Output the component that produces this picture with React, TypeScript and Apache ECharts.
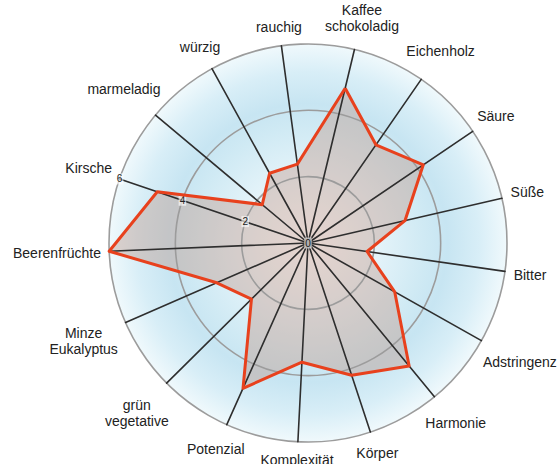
import React, { useEffect, useRef } from 'react';
import * as echarts from 'echarts';

// Indicators, listed counter-clockwise starting with "Kaffee schokoladig"
const indicatorNames: string[] = [
  'Kaffee\nschokoladig',
  'rauchig',
  'würzig',
  'marmeladig',
  'Kirsche',
  'Beerenfrüchte',
  'Minze\nEukalyptus',
  'grün\nvegetative',
  'Potenzial',
  'Komplexität',
  'Körper',
  'Harmonie',
  'Adstringenz',
  'Bitter',
  'Süße',
  'Säure',
  'Eichenholz',
];

const seriesValues: number[] = [
  4.8, 2.4, 2.4, 1.8, 4.8, 6.0, 3.0, 2.4, 4.8, 3.6, 4.2, 4.8, 3.0, 1.8, 3.0, 4.2, 3.6,
];

const axisMin = 0;
const axisMax = 6;
const tickCount = 3; // ticks 0, 2, 4, 6
const labelAxisName = 'Kirsche';

const CX = 308;
const CY = 243;
const RADIUS = 199;
const START_ANGLE = 76.5;
const NAME_GAP = 8;
const FONT_FAMILY = '"Liberation Sans", Arial, Helvetica, sans-serif';
const FONT_SIZE = 14;
const LINE_H = 16;

function measure(text: string): { w: number; h: number } {
  const canvas = document.createElement('canvas');
  const ctx = canvas.getContext('2d');
  const lines = text.split('\n');
  let w = 0;
  if (ctx) {
    ctx.font = `${FONT_SIZE}px ${FONT_FAMILY}`;
    lines.forEach((l) => {
      w = Math.max(w, ctx.measureText(l).width);
    });
  } else {
    w = Math.max(...lines.map((l) => l.length * 7));
  }
  return { w, h: lines.length * LINE_H };
}

// one radial gradient shared by all bands, in absolute pixel space
const backgroundGradient = {
  type: 'radial',
  x: CX,
  y: CY,
  r: RADIUS,
  colorStops: [
    { offset: 0, color: '#ffffff' },
    { offset: 0.3, color: '#e8f5fa' },
    { offset: 0.58, color: '#d0eaf4' },
    { offset: 0.7, color: '#c7e5f2' },
    { offset: 0.86, color: '#d8eef7' },
    { offset: 1, color: '#f0f9fc' },
  ],
  global: true,
};

export default function App() {
  const ref = useRef<HTMLDivElement>(null);

  useEffect(() => {
    document.body.style.margin = '0';
    if (!ref.current) return;
    const chart = echarts.init(ref.current, undefined, { renderer: 'svg' });

    const n = indicatorNames.length;
    const step = 360 / n;

    const labels = indicatorNames.map((name, i) => {
      const ang = ((START_ANGLE + i * step) * Math.PI) / 180;
      const c = Math.cos(ang);
      const s = Math.sin(ang);
      const { w, h } = measure(name);
      const r = RADIUS + NAME_GAP + (w / 2) * Math.abs(c) + (h / 2) * Math.abs(s);
      return {
        type: 'text',
        x: CX + r * c,
        y: CY - r * s,
        silent: true,
        style: {
          text: name,
          fill: '#222',
          fontSize: FONT_SIZE,
          fontFamily: FONT_FAMILY,
          align: 'center',
          verticalAlign: 'middle',
          lineHeight: LINE_H,
        },
      };
    });

    const baseRadar = {
      center: [CX, CY],
      radius: RADIUS,
      startAngle: START_ANGLE,
      shape: 'circle',
      splitNumber: tickCount,
      axisName: { show: false },
      axisTick: { show: false },
    };

    const option: any = {
      animation: false,
      backgroundColor: '#ffffff',
      radar: [
        {
          ...baseRadar,
          z: 0,
          indicator: indicatorNames.map((name) => ({ name, min: axisMin, max: axisMax })),
          axisLine: { show: false },
          splitLine: { show: false },
          splitArea: {
            show: true,
            areaStyle: { color: [backgroundGradient] },
          },
        },
        {
          ...baseRadar,
          z: 3,
          indicator: indicatorNames.map((name) => {
            const ind: any = { name, min: axisMin, max: axisMax };
            if (name === labelAxisName) {
              ind.axisLabel = {
                show: true,
                fontSize: 10,
                color: '#222',
                fontFamily: FONT_FAMILY,
                backgroundColor: 'rgba(255,255,255,0.62)',
                padding: [1, 1, 0, 1],
                margin: 0,
                align: 'center',
                verticalAlign: 'middle',
              };
            }
            return ind;
          }),
          axisLine: { show: true, lineStyle: { color: '#2e2e2e', width: 1.6 } },
          splitLine: { show: true, lineStyle: { color: '#9c9c9c', width: 1.6 } },
          splitArea: { show: false },
        },
      ],
      series: [
        {
          type: 'radar',
          radarIndex: 0,
          z: 1,
          symbol: 'none',
          lineStyle: { width: 0, opacity: 0 },
          areaStyle: { color: 'rgba(190, 145, 130, 0.55)' },
          data: [{ value: seriesValues, name: 'Profil' }],
        },
        {
          type: 'radar',
          radarIndex: 1,
          z: 4,
          symbol: 'none',
          lineStyle: { color: '#e8411d', width: 3 },
          data: [{ value: seriesValues, name: 'Profil' }],
        },
      ],
      graphic: labels,
    };

    chart.setOption(option);
    return () => chart.dispose();
  }, []);

  return <div ref={ref} style={{ width: 559, height: 464 }} />;
}
